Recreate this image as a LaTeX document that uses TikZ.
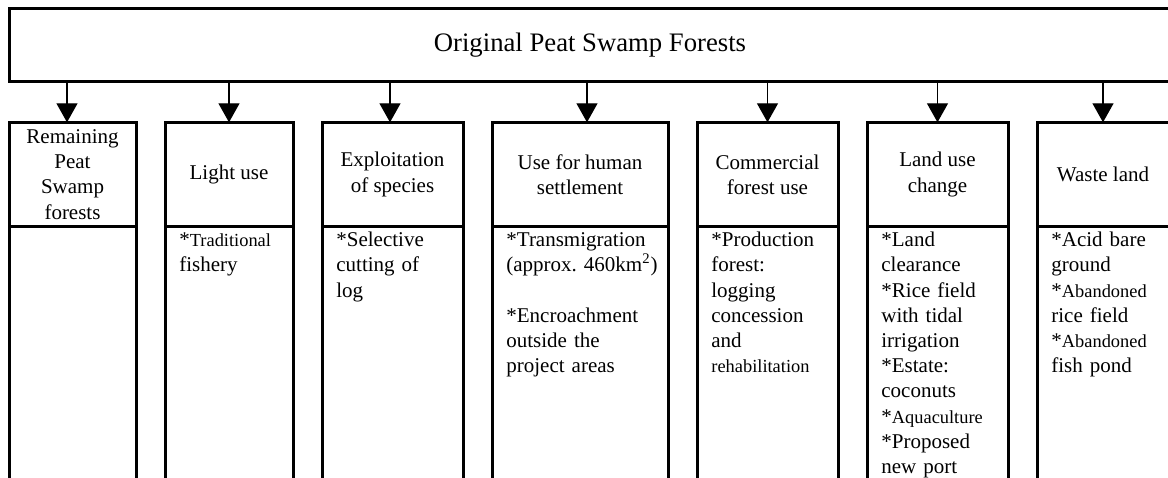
\documentclass[tikz,border=0pt]{standalone}
\usepackage{fontspec}
\setmainfont{Liberation Serif}
\usetikzlibrary{positioning, arrows.meta}
\frenchspacing

\newcommand{\bodyfont}{\fontsize{10.5pt}{12.6pt}\selectfont}
\newcommand{\smallfont}{\fontsize{9.2pt}{12.6pt}\selectfont}

\tikzset{
    topbox/.style={
        draw,
        line width=1.5pt,
        outer sep=0pt,
        minimum width=581pt,
        minimum height=36.35pt,
        font=\fontsize{13.35pt}{16pt}\selectfont
    },
    headbox/.style={
        draw,
        line width=1.5pt,
        outer sep=0pt,
        inner sep=0pt,
        minimum height=52.2pt,
        align=center,
        font=\bodyfont
    },
    bodybox/.style={
        draw,
        line width=1.5pt,
        outer sep=0pt,
        minimum height=160pt
    },
    itemtext/.style={
        anchor=base west,
        inner sep=0pt,
        text width=90pt,
        align=left,
        font=\bodyfont
    },
    ptr/.style={
        -{Triangle[width=10.5pt, length=9.5pt]},
        line width=0.65pt
    }
}

\begin{document}
\begin{tikzpicture}[x=0.5pt, y=-0.5pt]
    \useasboundingbox (0,0) rectangle (1168,477);

    \node[topbox] (top) at (590,44.65) {Original Peat Swamp Forests};

    % headers
    \node[headbox, minimum width=63.5pt] (h1) at (72.5,174.5) {Remaining\\Peat\\Swamp\\forests};
    \node[headbox, minimum width=64pt, right=14.5pt of h1] (h2) {Light use};
    \node[headbox, minimum width=70.5pt, right=14.5pt of h2] (h3) {Exploitation\\of species};
    \node[headbox, minimum width=88pt, right=14.5pt of h3] (h4) {Use for human\\settlement};
    \node[headbox, minimum width=70.5pt, right=14.5pt of h4] (h5) {Commercial\\forest use};
    \node[headbox, minimum width=70.5pt, right=14.5pt of h5] (h6) {Land use\\change};
    \node[headbox, minimum width=66pt, right=14.5pt of h6] (h7) {Waste land};

    % lower parts
    \node[bodybox, minimum width=63.5pt, below=0pt of h1] (b1) {};
    \node[bodybox, minimum width=64pt, below=0pt of h2] (b2) {};
    \node[bodybox, minimum width=70.5pt, below=0pt of h3] (b3) {};
    \node[bodybox, minimum width=88pt, below=0pt of h4] (b4) {};
    \node[bodybox, minimum width=70.5pt, below=0pt of h5] (b5) {};
    \node[bodybox, minimum width=70.5pt, below=0pt of h6] (b6) {};
    \node[bodybox, minimum width=66pt, below=0pt of h7] (b7) {};

    \node[itemtext] (t2) at ([xshift=7pt, yshift=-10pt]b2.north west) {*{\smallfont Traditional}\\fishery};
    \node[itemtext] (t3) at ([xshift=7pt, yshift=-10pt]b3.north west) {*Selective\\cutting of\\log};
    \node[itemtext] (t4) at ([xshift=7pt, yshift=-10pt]b4.north west) {*Transmigration\\(approx. 460km\textsuperscript{2})\\[12.6pt]{}*Encroachment\\outside the\\project areas};
    \node[itemtext] (t5) at ([xshift=7pt, yshift=-10pt]b5.north west) {*Production\\forest:\\logging\\concession\\and\\{\smallfont rehabilitation}};
    \node[itemtext] (t6) at ([xshift=7pt, yshift=-10pt]b6.north west) {*Land\\clearance\\{}*Rice field\\with tidal\\irrigation\\{}*Estate:\\coconuts\\{}*{\smallfont Aquaculture}\\{}*Proposed\\new port};
    \node[itemtext] (t7) at ([xshift=7pt, yshift=-10pt]b7.north west) {*Acid bare\\ground\\{}*{\smallfont Abandoned}\\rice field\\{}*{\smallfont Abandoned}\\fish pond};

    % arrows
    \draw[ptr] ([xshift=-2.75pt]h1.north |- top.south) -- ([xshift=-2.75pt]h1.north);
    \draw[ptr] (h2.north |- top.south) -- (h2.north);
    \draw[ptr] ([xshift=-1.25pt]h3.north |- top.south) -- ([xshift=-1.25pt]h3.north);
    \draw[ptr] ([xshift=3.5pt]h4.north |- top.south) -- ([xshift=3.5pt]h4.north);
    \draw[ptr] (h5.north |- top.south) -- (h5.north);
    \draw[ptr] (h6.north |- top.south) -- (h6.north);
    \draw[ptr] (h7.north |- top.south) -- (h7.north);
\end{tikzpicture}
\end{document}
